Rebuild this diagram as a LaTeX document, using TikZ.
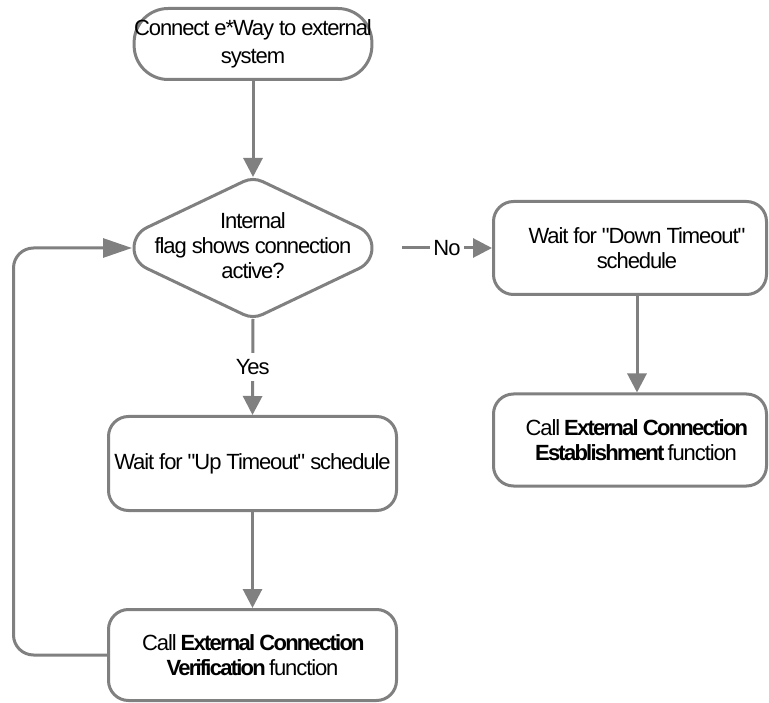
\documentclass[tikz,border=0pt]{standalone}
\usepackage{fontspec}
\setmainfont{Liberation Sans}[Ligatures=TeXOff,LetterSpace=-5,BoldFeatures={LetterSpace=-8}]
\usetikzlibrary{arrows.meta,shapes.geometric,calc}
\definecolor{linegray}{RGB}{128,128,128}
\begin{document}
\begin{tikzpicture}[x=1pt,y=-1pt,
  every node/.style={font=\fontsize{22}{25}\selectfont, text=black},
  flow/.style={draw=linegray, line width=3pt, fill=white, align=center,
    inner sep=0pt, rounded corners=20pt},
  terminal/.style={flow, rounded corners=34pt},
  caption/.style={align=center, inner sep=0pt},
  link/.style={draw=linegray, line width=3pt, -{Triangle[length=19pt,width=19pt]}},
  longlink/.style={draw=linegray, line width=3pt, -{Triangle[length=29pt,width=19pt]}},
  branch/.style={fill=white, inner xsep=3pt, inner ysep=6pt}
]
\useasboundingbox (0,0) rectangle (769,703);

% start terminal
\node[terminal, minimum width=237pt, minimum height=71pt] (start) at (253,44)
  {Connect e*Way to external\\[3pt]system};

% decision: anchors from an invisible diamond, outline with round corners
\node[diamond, minimum width=298pt, minimum height=142pt, inner sep=0pt,
  outer sep=0pt] (dec) at (253,248) {};
\draw[draw=linegray, line width=3pt, fill=white, shift={(dec.center)}]
  (-106,-20.5) -- (-9.75,-66.35)
  .. controls (-3.57,-69.3) and (3.57,-69.3) .. (9.75,-66.35)
  -- (106,-20.5)
  .. controls (123.3,-12.3) and (123.3,12.3) .. (106,20.5)
  -- (9.75,66.35)
  .. controls (3.57,69.3) and (-3.57,69.3) .. (-9.75,66.35)
  -- (-106,20.5)
  .. controls (-123.3,12.3) and (-123.3,-12.3) .. cycle;
\node[caption] (dectext) at (253,246)
  {Internal\\flag shows connection\\active?};

% left branch
\node[flow, minimum width=288pt, minimum height=94pt] (up) at (252.5,463.5)
  {Wait for "Up Timeout" schedule};
\node[flow, minimum width=288pt, minimum height=91pt] (ver) at (252.5,655)
  {Call \textbf{External Connection}\\\textbf{Verification} function};

% right branch
\node[flow, minimum width=273pt, minimum height=93pt] (down) at (630,248) {};
\node[caption] (downtext) at (637,248) {Wait for "Down Timeout"\\schedule};
\node[flow, minimum width=273pt, minimum height=92pt] (est) at (630,440) {};
\node[caption] (esttext) at (636,440)
  {Call \textbf{External Connection}\\\textbf{Establishment} function};

% rail of the return loop
\coordinate (rail) at (13.5,0);

% connectors
\draw[link] (start.south) -- (dec.north);
\draw[link] (dec.south) -- node[branch] {Yes} (up.north);
\draw[link] (up.south) -- (ver.north);
\draw[link] (dec.east) -- node[branch, inner ysep=1pt] {No} (down.west);
\draw[link] ([xshift=7pt]down.south) -- ([xshift=7pt]est.north);
\draw[longlink, rounded corners=20pt, shorten >=-28pt]
  (ver.west) -| (rail |- dec.west) -- (dec.west);
\end{tikzpicture}
\end{document}
